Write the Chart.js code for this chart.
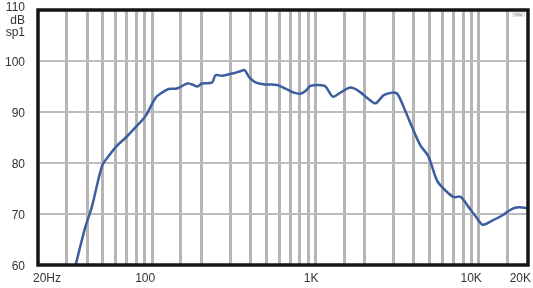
<!DOCTYPE html>
<html>
<head>
<meta charset="utf-8">
<script src="https://cdn.jsdelivr.net/npm/chart.js@4/dist/chart.umd.min.js"></script>
<style>
  html, body { margin: 0; padding: 0; background: #fff; }
  #wrap { width: 533px; height: 288px; }
</style>
</head>
<body>
<div id="wrap"><canvas id="chart" width="533" height="288"></canvas></div>
<script>
// frequency response
const freqHz = [34, 38.7, 42.9, 49.4, 54.3, 61, 69, 79, 91, 105,
    115, 126, 142, 164, 176, 189, 202, 233, 244, 268,
    295, 324, 347, 369, 391, 429, 494, 582, 655, 737,
    810, 869, 932, 1047, 1151, 1277, 1422, 1637, 1841, 2121,
    2330, 2618, 2946, 3162, 3475, 3908, 4396, 4897, 5557, 6252,
    7033, 7725, 8690, 9775, 10578, 12071, 13900, 16000, 17580, 19770, 20000];
const splDb = [60, 67.1, 71.6, 79.5, 81.4, 83.4, 85.0, 87.0, 89.2, 92.8,
    93.8, 94.5, 94.6, 95.6, 95.4, 95.0, 95.6, 95.8, 97.2, 97.1,
    97.4, 97.7, 98.0, 98.2, 96.9, 95.8, 95.4, 95.3, 94.6, 93.8,
    93.6, 94.1, 95.1, 95.3, 95.0, 93.0, 93.8, 94.8, 94.1, 92.5,
    91.7, 93.3, 93.8, 93.6, 90.9, 87.0, 83.4, 81.4, 76.5, 74.6,
    73.3, 73.4, 71.3, 69.1, 67.9, 68.7, 69.7, 71.0, 71.3, 71.2, 71.2];

// vertical grid lines
const gridFreqs = [30, 40, 50, 60, 70, 80, 90, 100, 150, 200, 300, 400, 500, 600, 700, 800, 900,
    1000, 1500, 2000, 3000, 4000, 5000, 6000, 7000, 8000, 9000, 10000, 15000];
const xTickValues = [20, 100, 1000, 10000, 20000];
const xTickLabels = ['20Hz', '100', '1K', '10K', '20K'];
const yTickValues = [60, 70, 80, 90, 100, 110];
const yUnitLabels = ['dB', 'sp1'];

const FONT = '12px "Liberation Sans", Arial, sans-serif';
const TEXT_COLOR = '#333';

const labelsPlugin = {
    id: 'labels',
    afterDraw(chart) {
        const ctx = chart.ctx;
        const a = chart.chartArea;
        const xs = chart.scales.x, ys = chart.scales.y;

        // frame
        ctx.save();
        ctx.strokeStyle = '#151515';
        ctx.lineWidth = 3.5;
        ctx.strokeRect(a.left, a.top, a.right - a.left, a.bottom - a.top);

        ctx.font = FONT;
        ctx.fillStyle = TEXT_COLOR;
        ctx.textBaseline = 'middle';

        // y labels
        ctx.textAlign = 'right';
        yTickValues.forEach(v => {
            let y = ys.getPixelForValue(v) + 2;
            if (v === 110) y = ys.getPixelForValue(v) - 2;
            ctx.fillText(String(v), 25, y);
        });
        yUnitLabels.forEach((t, i) => {
            ctx.fillText(t, 25, ys.getPixelForValue(110) + 11 + i * 12);
        });

        // x labels
        xTickValues.forEach((v, i) => {
            const x = xs.getPixelForValue(v);
            if (i === 0) {
                ctx.textAlign = 'left';
                ctx.fillText(xTickLabels[i], x - 5, 279);
            } else {
                ctx.textAlign = 'right';
                ctx.fillText(xTickLabels[i], x + 3, 279);
            }
        });

        // little logo box top right
        ctx.fillStyle = '#e6e6e6';
        ctx.fillRect(a.right - 16, a.top + 2, 13, 5);
        ctx.fillStyle = '#888';
        ctx.font = '4px "Liberation Sans", Arial, sans-serif';
        ctx.textAlign = 'center';
        ctx.fillText('Vifa', a.right - 9.5, a.top + 4.5);
        ctx.restore();
    }
};

new Chart(document.getElementById('chart'), {
    type: 'line',
    data: {
        datasets: [{
            data: freqHz.map((f, i) => ({ x: f, y: splDb[i] })),
            borderColor: '#3c5e9e',
            borderWidth: 2.5,
            pointRadius: 0,
            tension: 0.3,
            fill: false
        }]
    },
    options: {
        responsive: false,
        animation: false,
        layout: { padding: { left: 38, top: 10, right: 5, bottom: 23 } },
        plugins: { legend: { display: false }, tooltip: { enabled: false } },
        scales: {
            x: {
                type: 'logarithmic',
                min: 20,
                max: 20000,
                afterBuildTicks: scale => {
                    scale.ticks = gridFreqs.map(v => ({ value: v }));
                },
                ticks: { display: false },
                grid: { color: '#b5b5b5', lineWidth: 3, drawTicks: false },
                border: { display: false }
            },
            y: {
                min: 60,
                max: 110,
                ticks: { display: false, stepSize: 10 },
                grid: { color: '#bcbcbc', lineWidth: 2, drawTicks: false },
                border: { display: false }
            }
        }
    },
    plugins: [labelsPlugin]
});
</script>
</body>
</html>
